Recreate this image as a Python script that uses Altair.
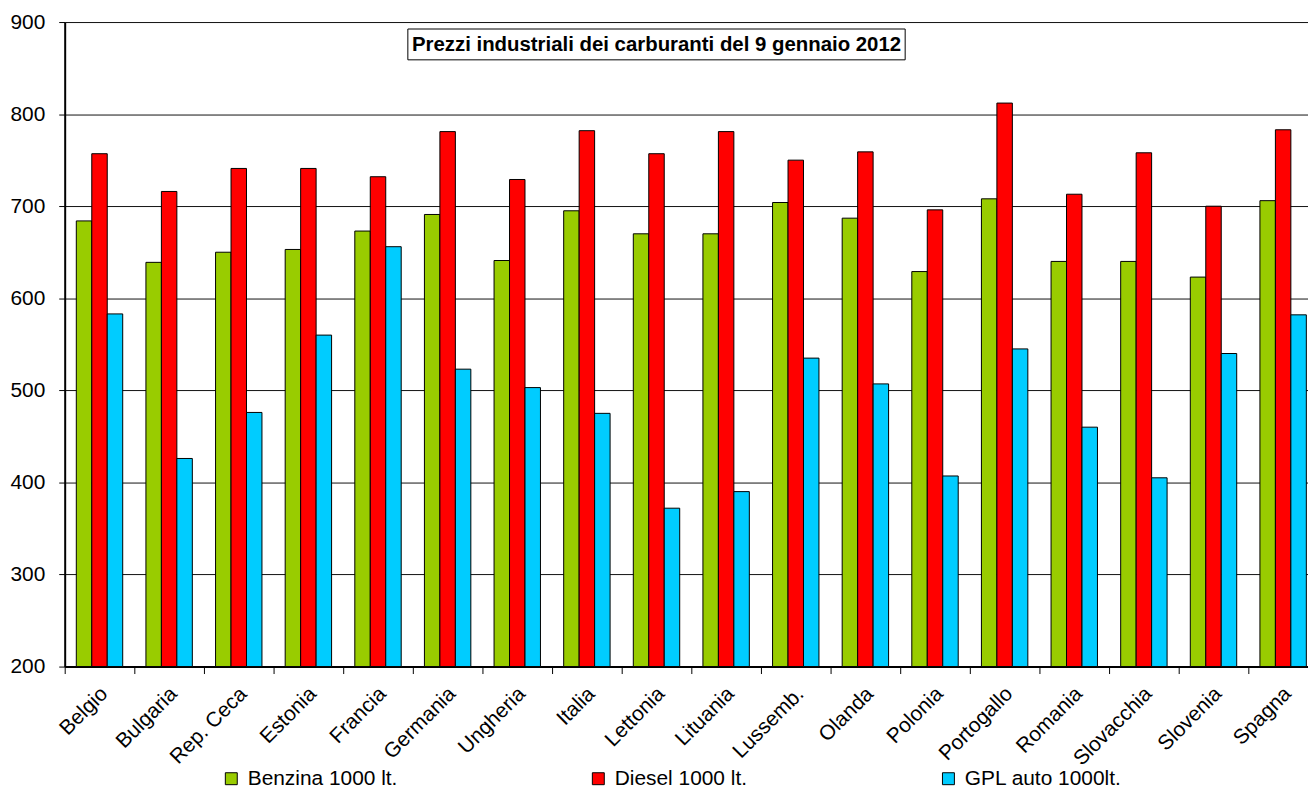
import altair as alt
import pandas as pd

FONT = "Liberation Sans"

countries = ["Belgio", "Bulgaria", "Rep. Ceca", "Estonia", "Francia", "Germania",
             "Ungheria", "Italia", "Lettonia", "Lituania", "Lussemb.", "Olanda",
             "Polonia", "Portogallo", "Romania", "Slovacchia", "Slovenia", "Spagna"]
benzina = [684, 639, 650, 653, 673, 691, 641, 695, 670, 670, 704, 687, 629, 708, 640, 640, 623, 706]
diesel = [757, 716, 741, 741, 732, 781, 729, 782, 757, 781, 750, 759, 696, 812, 713, 758, 700, 783]
gpl = [583, 426, 476, 560, 656, 523, 503, 475, 372, 390, 535, 507, 407, 545, 460, 405, 540, 582]

series = ["Benzina 1000 lt.", "Diesel 1000 lt.", "GPL auto 1000lt."]
colors = ["#99CC00", "#FF0000", "#00CCFF"]
title_text = "Prezzi industriali dei carburanti del 9 gennaio 2012"
y_ticks = [200, 300, 400, 500, 600, 700, 800, 900]

rows = []
for i, c in enumerate(countries):
    for s, vals in zip(series, [benzina, diesel, gpl]):
        rows.append({"Paese": c, "Carburante": s, "Prezzo": vals[i]})
df = pd.DataFrame(rows)

bars = alt.Chart(df).mark_bar(stroke="black", strokeWidth=1).encode(
    x=alt.X("Paese:N", sort=countries,
            scale=alt.Scale(range=[0, 1260], paddingInner=0, paddingOuter=0),
            axis=alt.Axis(title=None, labelAngle=-45, labelAlign="right", labelBaseline="middle",
                          labelFontSize=21, labelFont=FONT, labelColor="black",
                          labelPadding=17, labelOffset=5, tickSize=7, tickColor="black",
                          bandPosition=0, domainColor="black", domainWidth=2, grid=False)),
    xOffset=alt.XOffset("Carburante:N", sort=series,
                        scale=alt.Scale(paddingInner=0, paddingOuter=0.75)),
    y=alt.Y("Prezzo:Q", scale=alt.Scale(domain=[200, 900], nice=False, zero=False),
            axis=alt.Axis(title=None, values=y_ticks, grid=True, gridColor="#111", gridWidth=1,
                          domainColor="black", domainWidth=2, tickColor="black", tickSize=6,
                          labelFontSize=21, labelFont=FONT, labelColor="black", labelPadding=14)),
    y2=alt.datum(200),
    color=alt.Color("Carburante:N", sort=series,
                    scale=alt.Scale(domain=series, range=colors),
                    legend=alt.Legend(title=None, orient="none", legendX=157, legendY=750,
                                      direction="horizontal", symbolType="square", symbolSize=144,
                                      symbolStrokeColor="black", symbolStrokeWidth=1,
                                      labelFontSize=21, labelFont=FONT, labelColor="black",
                                      columnPadding=191, labelOffset=6, padding=0)),
)

title_df = pd.DataFrame({"t": [title_text]})
box = alt.Chart(title_df).mark_rect(fill="white", stroke="black", strokeWidth=1).encode(
    x=alt.value(345), x2=alt.value(845), y=alt.value(7), y2=alt.value(38))
title = alt.Chart(title_df).mark_text(font=FONT, fontSize=20.5, fontWeight="bold", color="black",
                                      align="center", baseline="middle").encode(
    x=alt.value(595), y=alt.value(23), text="t:N")

chart = alt.layer(bars, box, title).properties(
    width=1250, height=648,
    autosize=alt.AutoSizeParams(type="none"),
    padding={"left": 57, "top": 12, "right": 0, "bottom": 125},
).configure_view(strokeWidth=0).configure(background="white")

chart.save("out.html", embed_options={"renderer": "svg", "actions": False})
